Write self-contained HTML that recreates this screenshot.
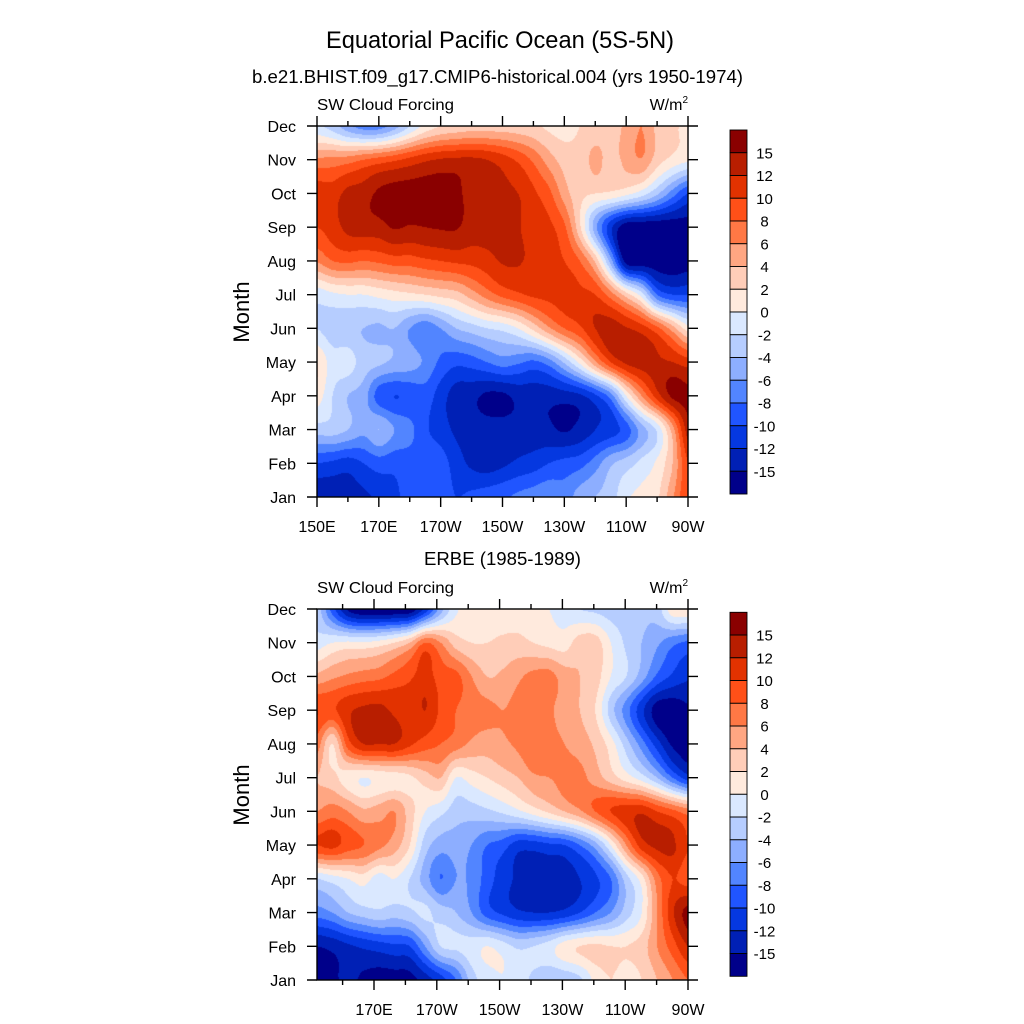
<!DOCTYPE html>
<html>
<head>
<meta charset="utf-8">
<style>
  html,body{margin:0;padding:0;background:#fff;width:1024px;height:1024px;overflow:hidden;}
  canvas{position:absolute;left:317px;width:371px;height:371px;}
  #c1{top:126px;}
  #c2{top:609px;}
  svg{position:absolute;left:0;top:0;}
  text{font-family:"Liberation Sans",Arial,sans-serif;fill:#000;}
</style>
</head>
<body>
<canvas id="c1" width="371" height="371"></canvas>
<canvas id="c2" width="371" height="371"></canvas>
<svg width="1024" height="1024" viewBox="0 0 1024 1024">
  <text x="500" y="48" font-size="24" text-anchor="middle" textLength="348" lengthAdjust="spacingAndGlyphs">Equatorial Pacific Ocean (5S-5N)</text>
  <text x="497.5" y="83" font-size="18" text-anchor="middle" textLength="491" lengthAdjust="spacingAndGlyphs">b.e21.BHIST.f09_g17.CMIP6-historical.004 (yrs 1950-1974)</text>
  <text x="502.5" y="565" font-size="18" text-anchor="middle" textLength="157" lengthAdjust="spacingAndGlyphs">ERBE (1985-1989)</text>

  <text x="317" y="110" font-size="16" textLength="137" lengthAdjust="spacingAndGlyphs">SW Cloud Forcing</text>
  <text x="688" y="110" font-size="16" text-anchor="end">W/m<tspan font-size="10" dy="-7">2</tspan></text>
  <text x="317" y="593" font-size="16" textLength="137" lengthAdjust="spacingAndGlyphs">SW Cloud Forcing</text>
  <text x="688" y="593" font-size="16" text-anchor="end">W/m<tspan font-size="10" dy="-7">2</tspan></text>

  <text transform="translate(249,312) rotate(-90)" font-size="22" text-anchor="middle">Month</text>
  <text transform="translate(249,795) rotate(-90)" font-size="22" text-anchor="middle">Month</text>

  <g stroke="#000" stroke-width="1.4" fill="none">
    <rect x="317" y="126" width="371" height="371"/>
    <path d="M317 497h-10M317 463.27h-10M317 429.55h-10M317 395.82h-10M317 362.09h-10M317 328.36h-10M317 294.64h-10M317 260.91h-10M317 227.18h-10M317 193.45h-10M317 159.73h-10M317 126h-10
             M688 497h10M688 463.27h10M688 429.55h10M688 395.82h10M688 362.09h10M688 328.36h10M688 294.64h10M688 260.91h10M688 227.18h10M688 193.45h10M688 159.73h10M688 126h10
             M317 497v10M378.83 497v10M440.67 497v10M502.5 497v10M564.33 497v10M626.17 497v10M688 497v10
             M347.9 497v5M409.75 497v5M471.6 497v5M533.4 497v5M595.25 497v5M657.1 497v5
             M317 126v-10M378.83 126v-10M440.67 126v-10M502.5 126v-10M564.33 126v-10M626.17 126v-10M688 126v-10
             M347.9 126v-5M409.75 126v-5M471.6 126v-5M533.4 126v-5M595.25 126v-5M657.1 126v-5"/>
  </g>
  <g stroke="#000" stroke-width="1.4" fill="none">
    <rect x="317" y="609" width="371" height="371"/>
    <path d="M317 980h-10M317 946.27h-10M317 912.55h-10M317 878.82h-10M317 845.09h-10M317 811.36h-10M317 777.64h-10M317 743.91h-10M317 710.18h-10M317 676.45h-10M317 642.73h-10M317 609h-10
             M688 980h10M688 946.27h10M688 912.55h10M688 878.82h10M688 845.09h10M688 811.36h10M688 777.64h10M688 743.91h10M688 710.18h10M688 676.45h10M688 642.73h10M688 609h10
             M374 980v10M436.8 980v10M499.6 980v10M562.4 980v10M625.2 980v10M688 980v10
             M342.6 980v5M405.4 980v5M468.2 980v5M531 980v5M593.8 980v5M656.6 980v5
             M374 609v-10M436.8 609v-10M499.6 609v-10M562.4 609v-10M625.2 609v-10M688 609v-10
             M342.6 609v-5M405.4 609v-5M468.2 609v-5M531 609v-5M593.8 609v-5M656.6 609v-5"/>
  </g>

  <g font-size="16" text-anchor="end">
    <text x="296" y="503">Jan</text>
    <text x="296" y="469.3">Feb</text>
    <text x="296" y="435.5">Mar</text>
    <text x="296" y="401.8">Apr</text>
    <text x="296" y="368.1">May</text>
    <text x="296" y="334.4">Jun</text>
    <text x="296" y="300.6">Jul</text>
    <text x="296" y="266.9">Aug</text>
    <text x="296" y="233.2">Sep</text>
    <text x="296" y="199.5">Oct</text>
    <text x="296" y="165.7">Nov</text>
    <text x="296" y="132">Dec</text>
  </g>
  <g font-size="16" text-anchor="end">
    <text x="296" y="986">Jan</text>
    <text x="296" y="952.3">Feb</text>
    <text x="296" y="918.5">Mar</text>
    <text x="296" y="884.8">Apr</text>
    <text x="296" y="851.1">May</text>
    <text x="296" y="817.4">Jun</text>
    <text x="296" y="783.6">Jul</text>
    <text x="296" y="749.9">Aug</text>
    <text x="296" y="716.2">Sep</text>
    <text x="296" y="682.5">Oct</text>
    <text x="296" y="648.7">Nov</text>
    <text x="296" y="615">Dec</text>
  </g>
  <g font-size="16" text-anchor="middle">
    <text x="317" y="532">150E</text>
    <text x="378.8" y="532">170E</text>
    <text x="440.7" y="532">170W</text>
    <text x="502.5" y="532">150W</text>
    <text x="564.3" y="532">130W</text>
    <text x="626.2" y="532">110W</text>
    <text x="688" y="532">90W</text>
  </g>
  <g font-size="16" text-anchor="middle">
    <text x="374" y="1015">170E</text>
    <text x="436.8" y="1015">170W</text>
    <text x="499.6" y="1015">150W</text>
    <text x="562.4" y="1015">130W</text>
    <text x="625.2" y="1015">110W</text>
    <text x="688" y="1015">90W</text>
  </g>

  <g id="cb1"></g>
  <g id="cb2"></g>
</svg>

<script>
var COLORS=["#00008A","#0020B5","#0538E0","#2055FF","#5285FF","#8DAEFF","#B6CDFF","#DAE8FF",
            "#FFEADD","#FFCDB8","#FFA682","#FF7845","#FF5018","#E23200","#B81E00","#8A0000"];
var LABELS=["15","12","10","8","6","4","2","0","-2","-4","-6","-8","-10","-12","-15"];

var TOP=[
[7.2,6.5,5.3,4.5,4.5,5.5,7.0,8.3,9.0,9.3,9.5,9.5,9.5,9.4,9.2,8.8,8.6,9.0,9.3,9.6,10.2,11.0,9.8,9.2,8.8],
[11.2,11.3,11.5,12.0,12.4,12.8,13.3,13.8,14.1,14.2,14.2,14.0,13.5,12.8,11.8,10.5,9.6,9.4,10.3,9.6,10.3,10.9,9.5,8.7,8.2],
[13.6,13.5,14.3,14.5,15.2,15.5,15.5,15.5,15.5,15.3,14.5,14.3,14.2,14.0,13.2,12.3,10.5,9.3,9.0,8.8,8.3,7.5,6.2,4.5,3.0],
[13.0,13.5,14.3,14.5,14.6,15.1,14.9,15.0,15.1,15.1,14.5,14.4,14.3,14.1,13.4,13.2,12.2,9.2,5.4,2.3,0.3,0.2,0.2,0.3,0.5],
[11.1,12.0,12.2,12.0,12.2,12.5,12.5,12.8,13.0,13.2,13.3,13.6,14.1,14.1,13.7,13.2,13.0,12.0,9.8,5.5,0.5,0.3,0.3,0.3,0.5],
[7.4,7.8,8.0,8.0,8.3,8.6,8.8,9.0,9.3,9.6,10.5,11.5,12.3,12.8,13.2,13.3,13.4,13.2,13.0,11.5,9.5,7.5,4.0,3.0,3.0],
[7.0,6.5,6.3,6.0,5.8,6.0,5.0,4.3,5.0,6.0,6.5,7.0,7.3,8.0,9.3,10.8,12.0,12.8,14.0,14.5,14.1,13.5,12.3,10.5,8.5],
[9.0,7.5,7.5,6.5,6.2,5.8,5.5,4.8,3.8,3.3,3.5,4.0,4.5,4.2,3.8,4.5,6.2,8.3,10.8,13.0,14.2,14.5,14.2,14.0,13.5],
[8.5,7.0,6.0,5.5,3.5,3.0,3.2,3.5,2.5,1.5,1.3,0.8,0.8,1.3,1.4,1.4,1.5,1.8,2.8,4.5,8.0,11.0,13.5,15.2,15.3],
[6.5,6.5,6.0,5.3,6.0,5.0,4.3,3.2,2.5,1.8,1.5,1.4,1.4,1.4,1.4,1.2,0.9,1.3,2.0,2.5,3.5,5.5,7.2,10.5,14.5],
[3.0,2.8,2.5,3.0,3.5,3.3,3.5,3.8,3.5,2.5,1.8,1.5,1.8,2.2,2.5,3.0,3.3,3.6,4.5,5.8,6.5,7.3,8.2,10.0,13.0],
[1.2,1.3,1.5,1.8,2.2,2.8,3.3,3.8,3.5,3.0,3.2,3.5,3.8,4.2,4.5,4.8,4.5,5.5,6.0,6.5,7.8,8.3,8.8,10.8,13.0]
];
var BOT=[
[6.5,3.5,0.8,0.0,0.0,0.0,0.2,2.3,5.5,7.8,8.3,8.5,8.5,8.5,8.3,8.0,7.6,7.0,6.8,6.5,6.3,6.2,6.5,8.7,9.0],
[7.5,8.0,8.2,8.1,8.4,9.0,10.0,12.0,11.0,9.5,9.0,9.0,9.2,9.3,9.0,8.7,8.5,9.5,9.5,8.0,6.8,6.0,5.2,4.3,3.8],
[10.3,10.8,11.2,11.5,11.7,12.3,12.8,13.5,12.5,12.3,11.0,10.0,10.2,10.8,11.3,11.4,10.5,10.0,9.5,8.0,7.0,5.5,3.8,2.8,2.2],
[13.0,12.8,13.8,14.2,14.3,13.8,13.3,14.0,12.8,12.0,11.5,11.3,11.0,11.3,11.5,11.2,10.5,10.0,9.0,6.5,4.5,2.3,0.5,0.3,0.8],
[11.5,9.0,12.5,14.0,14.0,14.0,13.2,12.5,12.0,11.5,10.8,10.5,10.8,11.2,11.8,11.3,11.0,10.5,9.8,8.5,6.5,4.5,2.5,0.8,0.4],
[10.0,9.3,8.5,8.0,8.3,8.5,8.8,9.5,10.0,8.0,8.5,9.0,9.5,10.0,10.8,11.0,11.3,11.3,10.5,9.5,8.5,7.5,6.0,4.0,2.5],
[11.0,11.5,11.0,10.2,10.5,11.0,9.5,8.0,7.3,6.5,6.5,6.8,7.2,7.8,8.5,9.2,10.0,10.8,12.0,13.0,13.5,13.8,13.0,12.3,11.5],
[13.0,13.3,12.5,12.0,11.3,10.5,9.0,6.5,5.5,5.5,5.0,4.0,3.5,2.5,2.5,2.8,3.0,4.0,5.5,8.0,11.0,13.5,14.2,14.2,13.0],
[7.0,7.5,8.0,8.5,7.5,8.0,7.0,5.5,4.0,5.0,4.8,3.5,2.5,1.8,1.5,1.5,1.6,2.0,2.8,4.0,6.5,8.5,11.5,13.0,12.5],
[4.5,5.0,6.0,6.5,6.8,6.5,6.8,7.2,6.5,6.0,5.0,3.5,2.8,2.2,2.0,2.0,2.3,3.0,4.0,5.0,6.5,8.0,11.0,13.8,15.4],
[1.0,1.3,1.8,2.2,2.5,2.8,3.0,5.0,7.0,7.2,7.5,8.0,7.5,6.8,7.0,7.5,8.5,9.0,9.2,9.0,9.0,9.5,11.0,12.5,14.0],
[0.5,0.8,1.2,0.8,0.5,0.5,0.6,1.5,2.5,4.0,6.5,7.5,8.0,7.5,6.8,6.2,6.3,6.8,8.3,9.0,8.5,9.0,10.0,11.0,12.0]
];

function hex(c){return [parseInt(c.substr(1,2),16),parseInt(c.substr(3,2),16),parseInt(c.substr(5,2),16)];}
var RGB=COLORS.map(hex);
function cr(p0,p1,p2,p3,t){
  return 0.5*((2*p1)+(-p0+p2)*t+(2*p0-5*p1+4*p2-p3)*t*t+(-p0+3*p1-3*p2+p3)*t*t*t);
}
function draw(id,g){
  var cv=document.getElementById(id);
  var ctx=cv.getContext('2d');
  var W=371,H=371,nr=g.length,nc=g[0].length;
  var img=ctx.createImageData(W,H),d=img.data;
  function gv(r,c){ if(r<0)r=0; if(r>nr-1)r=nr-1; if(c<0)c=0; if(c>nc-1)c=nc-1; return g[r][c]; }
  for(var py=0;py<H;py++){
    var gy=(py+0.5)/H*(nr-1), r=Math.floor(gy); if(r>nr-2)r=nr-2; var fy=gy-r;
    for(var px=0;px<W;px++){
      var gx=(px+0.5)/W*(nc-1), c=Math.floor(gx); if(c>nc-2)c=nc-2; var fx=gx-c;
      var rows=[];
      for(var k=-1;k<=2;k++){
        rows.push(cr(gv(r+k,c-1),gv(r+k,c),gv(r+k,c+1),gv(r+k,c+2),fx));
      }
      var v=cr(rows[0],rows[1],rows[2],rows[3],fy);
      var idx=Math.floor(v); if(idx<0)idx=0; if(idx>15)idx=15;
      var col=RGB[idx], o=(py*W+px)*4;
      d[o]=col[0]; d[o+1]=col[1]; d[o+2]=col[2]; d[o+3]=255;
    }
  }
  ctx.putImageData(img,0,0);
}
draw('c1',TOP);
draw('c2',BOT);

var NS="http://www.w3.org/2000/svg";
function colorbar(gid,y0){
  var g=document.getElementById(gid), h=22.75;
  for(var i=0;i<16;i++){
    var r=document.createElementNS(NS,'rect');
    r.setAttribute('x',730); r.setAttribute('y',y0+i*h);
    r.setAttribute('width',17); r.setAttribute('height',h);
    r.setAttribute('fill',COLORS[15-i]); r.setAttribute('stroke','#000'); r.setAttribute('stroke-width','0.9');
    g.appendChild(r);
  }
  for(var j=0;j<15;j++){
    var t=document.createElementNS(NS,'text');
    t.setAttribute('x',764.5); t.setAttribute('y',(y0+(j+1)*h+5.5).toFixed(2));
    t.setAttribute('font-size','15'); t.setAttribute('text-anchor','middle');
    t.textContent=LABELS[j];
    g.appendChild(t);
  }
}
colorbar('cb1',130);
colorbar('cb2',612.3);
</script>
</body>
</html>
